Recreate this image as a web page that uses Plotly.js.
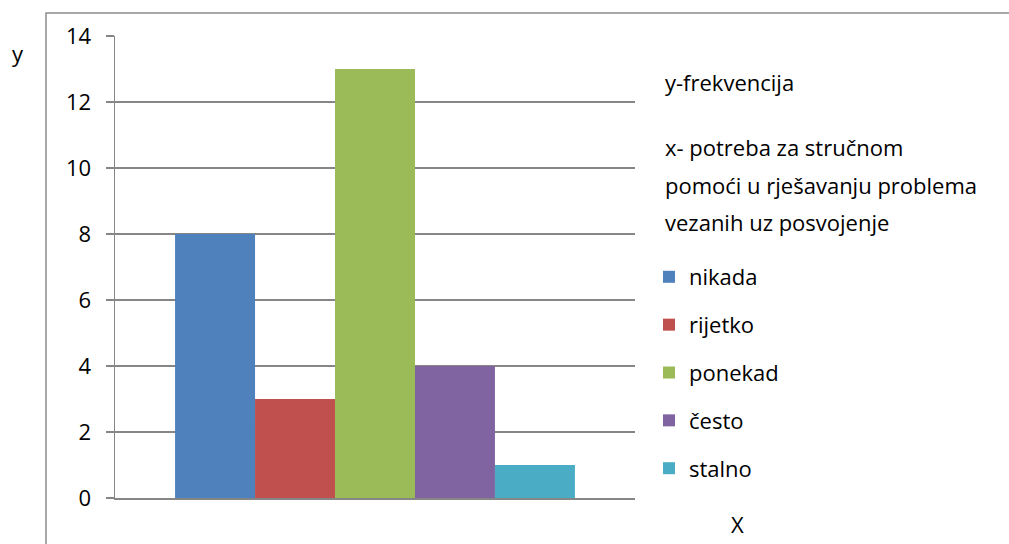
<!DOCTYPE html>
<html>
<head>
<meta charset="utf-8">
<script src="https://cdn.plot.ly/plotly-3.0.1.min.js"></script>
<style>html,body{margin:0;padding:0;background:#fff;}#chart{width:1009px;height:544px;}</style>
</head>
<body>
<div id="chart"></div>
<script>
const categories = ['nikada', 'rijetko', 'ponekad', 'često', 'stalno'];
const values = [8, 3, 13, 4, 1];
const colors = ['#4F81BD', '#C0504D', '#9BBB59', '#8064A2', '#4BACC6'];
const yTicks = [0, 2, 4, 6, 8, 10, 12, 14];
const noteLines = ['y-frekvencija', 'x- potreba za stručnom', 'pomoći u rješavanju problema', 'vezanih uz posvojenje'];

const W = 1009, H = 544;
const L = 115, R = 635, T = 36, B = 498;
const pw = R - L, ph = B - T;
const px = x => (x - L) / pw;
const py = y => (B - y) / ph;

const traces = categories.map((c, i) => ({
  type: 'bar',
  name: c,
  x: [''],
  y: [values[i]],
  marker: {color: colors[i], line: {width: 0}},
  legendgroup: 'g' + i,
  hoverinfo: 'name+y'
}));

const noteY = [82, 147, 185, 222];
const annotations = noteLines.map((t, i) => ({
  text: t, xref: 'paper', yref: 'paper', x: px(663), y: py(noteY[i]),
  xanchor: 'left', yanchor: 'middle', showarrow: false,
  font: {family: 'Open Sans', size: 22, color: '#000'}
}));
annotations.push({text: 'y', xref: 'paper', yref: 'paper', x: px(18), y: py(53), xanchor: 'center', yanchor: 'middle', showarrow: false, font: {family: 'Open Sans', size: 22, color: '#000'}});
annotations.push({text: 'X', xref: 'paper', yref: 'paper', x: px(737), y: py(524), xanchor: 'center', yanchor: 'middle', showarrow: false, font: {family: 'Open Sans', size: 22, color: '#000'}});

const layout = {
  width: W, height: H,
  margin: {l: L, r: W - R, t: T, b: H - B, pad: 0},
  paper_bgcolor: '#fff', plot_bgcolor: '#fff',
  font: {family: 'Open Sans', size: 22, color: '#000'},
  barmode: 'group', bargap: 0.231, bargroupgap: 0,
  showlegend: true,
  legend: {
    x: px(649), y: py(256), xanchor: 'left', yanchor: 'top',
    font: {family: 'Open Sans', size: 22, color: '#000'},
    traceorder: 'grouped', tracegroupgap: 16.25,
    bgcolor: 'rgba(0,0,0,0)', borderwidth: 0
  },
  xaxis: {
    type: 'category', showticklabels: false, ticks: '', showgrid: false,
    showline: true, linecolor: '#868686', linewidth: 1.5, zeroline: false, fixedrange: true
  },
  yaxis: {
    range: [0, 14], tickvals: yTicks, ticktext: yTicks.map(String),
    ticks: 'outside', ticklen: 8, tickcolor: '#868686', tickwidth: 1.5, ticklabelstandoff: 10,
    showgrid: true, gridcolor: '#868686', gridwidth: 1.2,
    showline: true, linecolor: '#868686', linewidth: 1.5, zeroline: false,
    tickfont: {family: 'Open Sans', size: 22, color: '#000'}, fixedrange: true
  },
  shapes: [{
    type: 'rect', xref: 'paper', yref: 'paper',
    x0: px(46), x1: px(1030), y0: py(560), y1: py(13),
    line: {color: '#8c8c8c', width: 1.5}, fillcolor: 'rgba(0,0,0,0)', layer: 'below'
  }],
  annotations: annotations
};

Plotly.newPlot('chart', traces, layout, {displayModeBar: false, staticPlot: true});
</script>
</body>
</html>
